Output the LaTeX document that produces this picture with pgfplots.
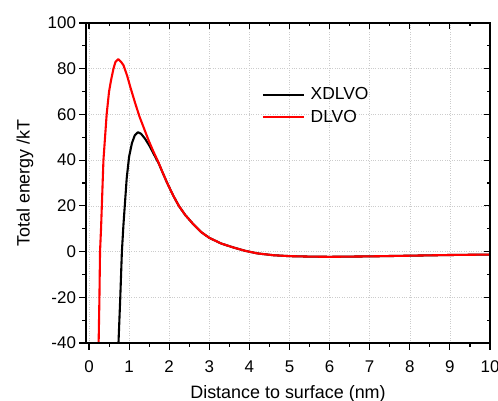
\documentclass[border=0pt]{standalone}
\usepackage{pgfplots}
\pgfplotsset{compat=1.18}
\usepackage{fontspec}
\setmainfont{Liberation Sans}
\pgfplotstableread{
x y
0.24 -40
0.26 -20
0.275 0
0.30 10
0.32 20
0.36 40
0.40 50
0.44 60
0.50 70
0.55 75
0.61 80
0.66 83
0.73 84.2
0.80 83
0.86 81.5
0.95 77
1.03 72
1.15 65
1.26 59
1.38 53.5
1.49 48.5
1.60 44
1.72 39.5
1.85 34
1.95 30
2.10 24.5
2.24 20
2.40 16
2.60 12
2.80 8.5
3.00 6
3.30 3.5
3.60 1.8
3.90 0.3
4.20 -0.8
4.60 -1.6
5.00 -2.0
5.50 -2.2
6.00 -2.3
6.50 -2.2
7.00 -2.1
8.00 -1.8
9.00 -1.5
10.00 -1.3
}\dlvo
\pgfplotstableread{
x y
0.735 -40
0.78 -20
0.80 -10
0.82 0
0.86 12
0.90 22
0.94 32
1.00 41.5
1.07 47.4
1.14 50.8
1.22 52.2
1.30 51.5
1.40 49.3
1.50 46.5
1.57 44.2
1.65 41.5
1.74 38.5
1.85 34
1.95 30
2.10 24.5
2.24 20
2.40 16
2.60 12
2.80 8.5
3.00 6
3.30 3.5
3.60 1.8
3.90 0.3
4.20 -0.8
4.60 -1.6
5.00 -2.0
5.50 -2.2
6.00 -2.3
6.50 -2.2
7.00 -2.1
8.00 -1.8
9.00 -1.5
10.00 -1.3
}\xdlvo
\begin{document}
\begin{tikzpicture}
\pgfplotsset{
  common/.style={
    scale only axis, width=404bp, height=320bp,
    xmin=-0.075, xmax=10, ymin=-40, ymax=100,
    xtick={0,1,...,10}, ytick={-40,-20,...,100},
    minor x tick num=1, minor y tick num=1,
    axis line style={line width=1.3pt},
    major tick length=6.5bp, minor tick length=3.5bp,
    every tick/.style={black, line width=1.1pt},
    /pgf/number format/assume math mode=true,
    tick label style={font=\fontsize{17}{19}\selectfont},
  }
}
\begin{axis}[common, name=ax,
  tick align=outside, xtick pos=bottom, ytick pos=left,
  xticklabel shift=8bp,
  grid=major, grid style={dotted, gray!40, line width=0.6pt},
  xlabel={Distance to surface (nm)},
  ylabel={Total energy /kT},
  label style={font=\fontsize{18}{20}\selectfont},
  xlabel style={at={(axis description cs:0.5,0)}, anchor=base, yshift=-55bp},
  ylabel style={at={(axis description cs:-0.151,0.5)}, anchor=center},
  legend style={draw=none, fill=none, at={(axis cs:4.23,73.5)}, anchor=north west,
    font=\fontsize{17.5}{19}\selectfont, row sep=5bp,
    /tikz/every odd column/.append style={column sep=4bp}},
  legend cell align=left,
  legend image post style={line width=1.9pt},
  legend image code/.code={\draw[#1] (0bp,0bp) -- (41bp,0bp);},
]
\addplot[black, line width=2.1pt, line join=round] table[x=x,y=y] {\xdlvo};
\addlegendentry{XDLVO}
\addplot[red, line width=2.1pt, line join=round] table[x=x,y=y] {\dlvo};
\addlegendentry{DLVO}
\end{axis}
\begin{axis}[common,
  tick align=inside, xtick pos=top, ytick pos=right,
  xticklabels={}, yticklabels={},
]
\end{axis}
\pgfresetboundingbox
\path ([shift={(-86bp,-58bp)}]ax.south west) rectangle ([shift={(8bp,23bp)}]ax.north east);
\end{tikzpicture}
\end{document}
